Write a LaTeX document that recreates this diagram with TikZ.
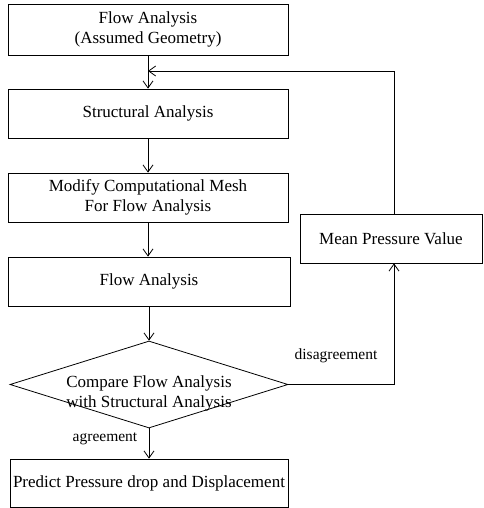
\documentclass[tikz,border=0pt]{standalone}
\usepackage{fontspec}
\setmainfont{Liberation Serif}
\usetikzlibrary{arrows.meta,shapes.geometric}
\begin{document}
\begin{tikzpicture}[x=1pt,y=-1pt,
  every node/.style={font=\fontsize{17}{20}\selectfont},
  box/.style={draw,line width=0.8pt,minimum width=280pt,minimum height=49pt,inner sep=0pt,align=center},
  dec/.style={draw,line width=0.8pt,diamond,minimum width=278pt,minimum height=87pt,inner sep=0pt},
  lbl/.style={inner sep=0pt,font=\fontsize{15.5}{18}\selectfont},
  conn/.style={line width=0.8pt,-{Straight Barb[length=7pt,width=10pt,line width=0.8pt]}},
  plain/.style={line width=0.8pt}]
\useasboundingbox (0,0) rectangle (483,508);
\node[box,minimum height=51pt] (b1) at (148,29.5) {Flow Analysis\\(Assumed Geometry)};
\node[box] (b2) at (148,113.5) {Structural Analysis};
\node[box] (b3) at (148,197.5) {Modify Computational Mesh\\For Flow Analysis};
\node[box,minimum width=282pt] (b4) at (149,281.5) {Flow Analysis};
\node[dec] (d) at (149,384.5) {};
\node[inner sep=0pt,align=center] (dt) at (149,393) {Compare Flow Analysis\\with Structural Analysis};
\node[box,minimum width=278pt,minimum height=48pt] (b5) at (149,483) {Predict Pressure drop and Displacement};
\node[box,minimum width=182pt] (mp) at (391,238.5) {Mean Pressure Value};
\coordinate (fb) at (148,71);
\coordinate (rc) at (394,384.5);
\draw[conn] (b1.south) -- (b2.north);
\draw[conn] (b2.south) -- (b3.north);
\draw[conn] (b3.south) -- (b3.south |- b4.north);
\draw[conn] (b4.south -| d.north) -- (d.north);
\draw[conn] (d.south) -- (b5.north);
\draw[conn] (d.east) -- (rc) -- (rc |- mp.south);
\draw[conn] (rc |- mp.north) |- (fb);
\node[lbl] (dis) at (336,356) {disagreement};
\node[lbl] (agr) at (105,439) {agreement};
\end{tikzpicture}
\end{document}
